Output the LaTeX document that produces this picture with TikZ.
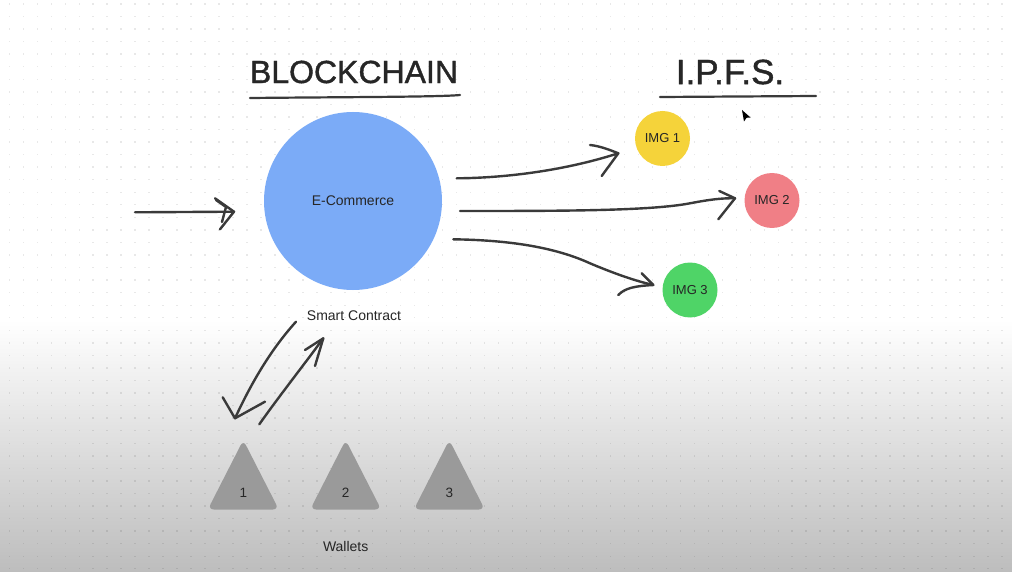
\documentclass[tikz,border=0pt]{standalone}
\usepackage{fontspec}
\setmainfont{Liberation Sans}
\newfontfamily\titlefont[FakeBold=1.2]{Liberation Sans}
\usetikzlibrary{calc}
\definecolor{ink}{HTML}{3A3A3A}
\definecolor{title}{HTML}{262626}
\definecolor{ecomblue}{HTML}{7BABF7}
\definecolor{imgyellow}{HTML}{F5D33A}
\definecolor{imgpink}{HTML}{F07F86}
\definecolor{imggreen}{HTML}{4FD467}
\definecolor{walletgrey}{HTML}{9A9A9A}
\definecolor{bottomgrey}{HTML}{BDBDBD}
\tikzset{
  hand/.style={draw=ink, line width=2.4pt, line cap=round, line join=round},
  titletext/.style={text=title, font=\titlefont\fontsize{32}{36}\selectfont, inner sep=0pt},
  smalltext/.style={text=title, font=\fontsize{14}{16}\selectfont, inner sep=0pt},
  imgcircle/.style={circle, minimum size=55pt, inner sep=0pt, text=title, font=\fontsize{13}{15}\selectfont},
  underline/.style={draw=ink, line width=2.2pt, line cap=round},
}
\begin{document}
\begin{tikzpicture}[x=1pt,y=-1pt]
\useasboundingbox (0,0) rectangle (1012,572);
% background
\fill[white] (0,0) rectangle (1012,572);
\shade[top color=white, bottom color=bottomgrey] (0,320) rectangle (1012,572);
\foreach \i in {0,...,72} {
  \foreach \j in {0,...,45} {
    \fill[black, opacity=0.09] ({9.3+13.98*\i-0.7},{4+12.55*\j-0.7}) rectangle ++(1.4,1.4);
  }
}
% titles
\node[titletext] (bc) at (354,72) {BLOCKCHAIN};
\node[titletext, font=\titlefont\fontsize{35}{38}\selectfont] (ipfs) at (730,72) {I.P.F.S.};
\coordinate (bcul1) at (250,98);
\coordinate (bcul2) at (460,95);
\draw[underline] (bcul1) .. controls (350,97) and (440,97) .. (bcul2);
\coordinate (ipul1) at (660,97);
\coordinate (ipul2) at (816,96);
\draw[underline] (ipul1) -- (ipul2);
% main circle
\node[circle, fill=ecomblue, minimum size=178pt, inner sep=0pt, text=title,
      font=\fontsize{14}{16}\selectfont] (ecom) at (353,201) {E-Commerce};
\node[smalltext] (sc) at (354,316) {Smart Contract};
% images
\node[imgcircle, fill=imgyellow] (img1) at (662.5,138.5) {IMG 1};
\node[imgcircle, fill=imgpink] (img2) at (772,200.5) {IMG 2};
\node[imgcircle, fill=imggreen] (img3) at (690,290) {IMG 3};
% wallets
\foreach \n/\x in {1/243.3, 2/345.7, 3/449.3} {
  \fill[walletgrey, rounded corners=6pt] (\x,440) -- (\x+35.5,509.5) -- (\x-35.5,509.5) -- cycle;
  \node[smalltext, font=\fontsize{13.5}{15}\selectfont] (w\n) at (\x,493) {\n};
}
\node[smalltext] (wallets) at (345.7,546) {Wallets};
% input arrow
\coordinate (in1) at (135,212.3);
\coordinate (in2) at (234,211.7);
\draw[hand] (in1) -- (in2);
\draw[hand] (215,198.3) -- (in2) -- (220,229.3);
\draw[hand] (216,200) -- (226,207) -- (222,222);
% arrow to IMG 1
\coordinate (a1s) at (456.7,178.3);
\coordinate (a1t) at (618.3,153.3);
\draw[hand] (a1s) .. controls (500,178) and (560,172) .. (a1t);
\draw[hand] (590,145) .. controls (600,146) and (610,150) .. (a1t) .. controls (612,162) and (606,170) .. (601.7,176);
% arrow to IMG 2
\coordinate (a2s) at (460,211);
\coordinate (a2t) at (735,198.3);
\draw[hand] (a2s) .. controls (560,211) and (650,211) .. (690,203.3) .. controls (710,199.5) and (722,198) .. (a2t);
\draw[hand] (719.3,191) -- (a2t) -- (718.3,219.3);
% arrow to IMG 3
\coordinate (a3s) at (453.3,239.3);
\coordinate (a3t) at (653.3,285);
\draw[hand] (a3s) .. controls (500,240) and (550,245) .. (590,263.3) .. controls (620,276) and (640,282) .. (a3t);
\draw[hand] (641.7,273.3) -- (a3t) .. controls (635,286) and (625,288) .. (618.3,295);
% double arrows smart contract <-> wallet
\coordinate (dA1) at (296,321.7);
\coordinate (dA2) at (235,418.3);
\draw[hand] (dA1) .. controls (275,345) and (255,375) .. (dA2);
\draw[hand] (222.7,397.3) -- (dA2) -- (265,401.7);
\coordinate (dB1) at (259.3,424.3);
\coordinate (dB2) at (323.3,338.3);
\draw[hand] (dB1) .. controls (280,395) and (300,370) .. (dB2);
\draw[hand] (305,350) -- (dB2) -- (315,366);
% cursor
\fill[black] (742,110) -- (750.5,117.5) -- (746.5,117.8) -- (744,121.5) -- cycle;
\end{tikzpicture}
\end{document}
